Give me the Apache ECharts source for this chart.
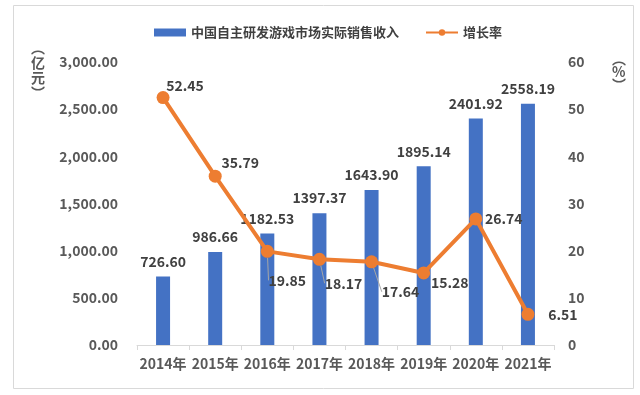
<!DOCTYPE html>
<html><head><meta charset="utf-8">
<script src="https://cdn.jsdelivr.net/npm/echarts@6/dist/echarts.min.js"></script>
<style>html,body{margin:0;padding:0;background:#fff}#c{width:640px;height:395px}</style>
</head><body><div id="c"></div>
<script>
var categories = ['2014年','2015年','2016年','2017年','2018年','2019年','2020年','2021年'];
var revenue = [726.60, 986.66, 1182.53, 1397.37, 1643.90, 1895.14, 2401.92, 2558.19];
var growth = [52.45, 35.79, 19.85, 18.17, 17.64, 15.28, 26.74, 6.51];
var revenueName = '中国自主研发游戏市场实际销售收入';
var growthName = '增长率';

var labelShift = [[22,-12],[25,-14],[20,29],[24,24],[29,30],[26,10],[28,0],[35,0]];
var leaderIdx = [2,3,4];
var FONT = '"Noto Sans CJK SC","Noto Sans",sans-serif';
var chart = echarts.init(document.getElementById('c'), null, {renderer:'canvas'});
chart.setOption({
  animation:false,
  textStyle:{fontFamily:FONT},
  graphic:[
    {type:'rect', shape:{x:13.5,y:5.5,width:620,height:383}, style:{fill:'none',stroke:'#d9d9d9',lineWidth:1}, z:-1},
    {type:'text', left:31, top:40, style:{text:'︵\n亿\n元\n︶', font:'bold 14px '+FONT, fill:'#595959', lineHeight:15, align:'center'}},
    {type:'text', left:612, top:52, style:{text:'︵\n%\n︶', font:'bold 14px '+FONT, fill:'#595959', lineHeight:13, align:'center'}}
  ],
  legend:{
    top:21, left:149, itemGap:26, itemWidth:32, itemHeight:8,
    textStyle:{fontSize:13, fontWeight:'bold', color:'#404040', fontFamily:FONT},
    data:[{name:revenueName, icon:'rect'},{name:growthName}]
  },
  grid:{left:137, right:86, top:62, bottom:50},
  xAxis:{
    type:'category', data:categories, boundaryGap:true,
    axisLine:{lineStyle:{color:'#d9d9d9'}},
    axisTick:{show:true, length:5, interval:0, lineStyle:{color:'#d9d9d9'}},
    axisLabel:{interval:0, fontSize:14, fontWeight:'bold', color:'#595959', margin:12, fontFamily:FONT}
  },
  yAxis:[
    {type:'value', min:0, max:3000, interval:500, splitLine:{show:false},
     axisLine:{show:false}, axisTick:{show:false},
     axisLabel:{fontSize:14, fontWeight:'bold', color:'#595959', margin:19, fontFamily:FONT,
       formatter:function(v){return v.toLocaleString('en-US',{minimumFractionDigits:2,maximumFractionDigits:2});}}},
    {type:'value', min:0, max:60, interval:10, splitLine:{show:false},
     axisLine:{show:false}, axisTick:{show:false},
     axisLabel:{fontSize:14, fontWeight:'bold', color:'#595959', margin:14, fontFamily:FONT}}
  ],
  series:[
    {name:revenueName, type:'bar', data:revenue, barWidth:14, itemStyle:{color:'#4472C4'},
     label:{show:true, position:'top', distance:8, fontSize:14, fontWeight:'bold', color:'#404040', fontFamily:FONT,
       formatter:function(p){return p.value.toFixed(2);}}},
    {name:growthName, type:'line', yAxisIndex:1, z:5,
     data:growth.map(function(v,i){return {value:v, labelLine:{show:leaderIdx.indexOf(i)>=0}};}),
     symbol:'circle', symbolSize:13,
     lineStyle:{color:'#ED7D31', width:4}, itemStyle:{color:'#ED7D31'},
     label:{show:true, position:'inside', fontSize:14, fontWeight:'bold', color:'#404040', fontFamily:FONT,
       formatter:function(p){return p.value.toFixed(2);}},
     labelLine:{show:false, lineStyle:{color:'#a6a6a6', width:1}},
     labelLayout:function(p){var s=labelShift[p.dataIndex]; return {dx:s[0], dy:s[1]};}}
  ]
});
</script></body></html>
